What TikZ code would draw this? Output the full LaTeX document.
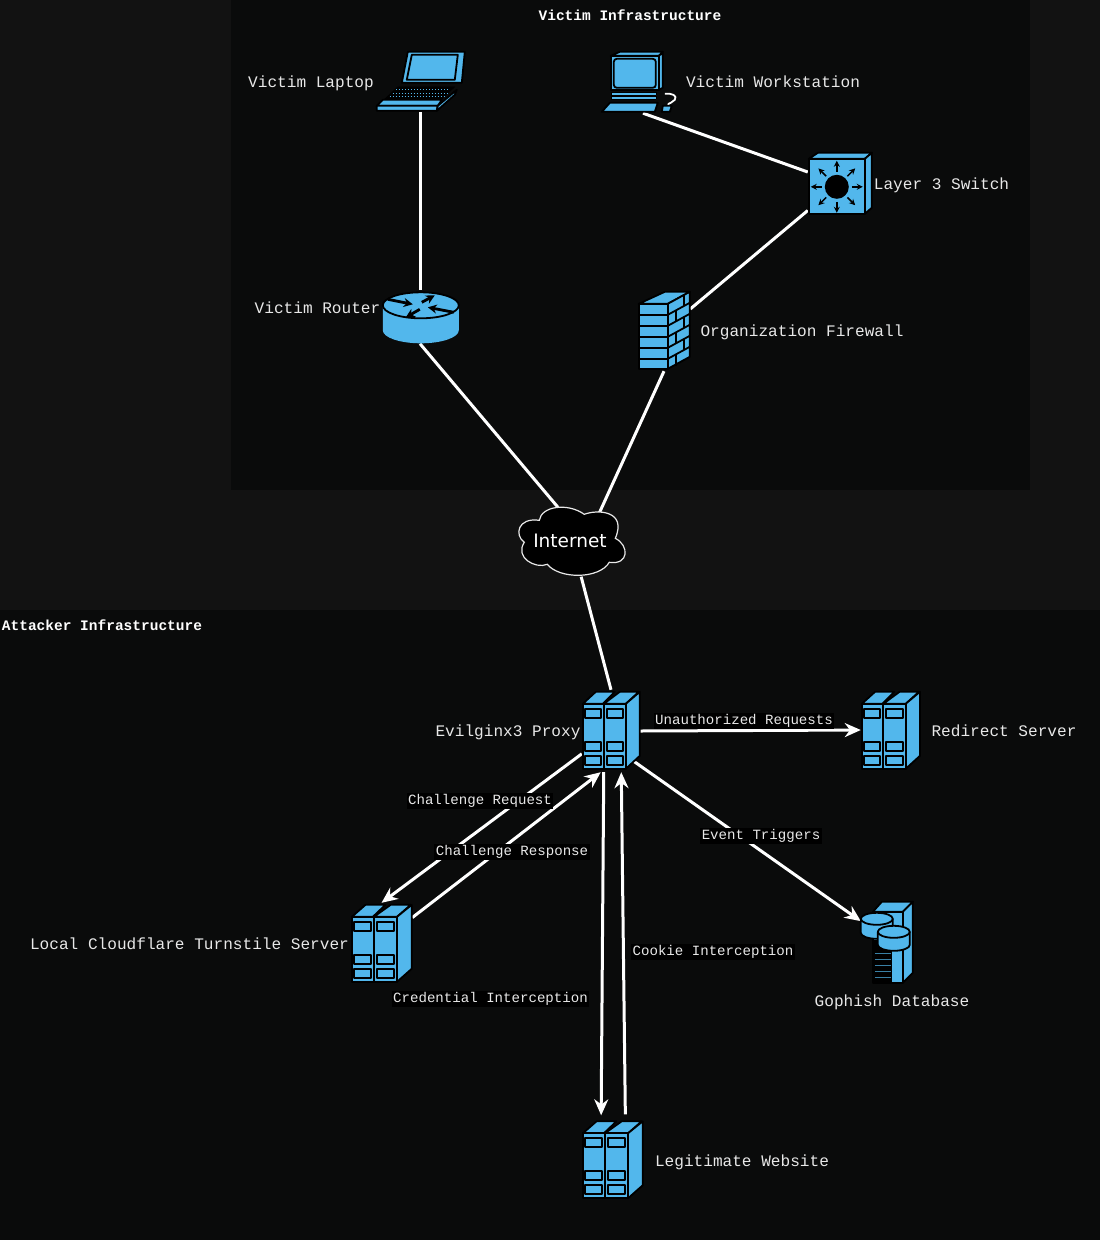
\documentclass[tikz,border=0pt]{standalone}
\usepackage{fontspec}
\setmonofont{Liberation Mono}
\newfontfamily\cloudfont{DejaVu Sans}
\usetikzlibrary{arrows.meta}
\definecolor{outerbg}{HTML}{121212}
\definecolor{panelbg}{HTML}{0A0B0B}
\definecolor{iconblue}{HTML}{52B7EC}
\definecolor{labelgrey}{HTML}{E8E8E8}
\tikzset{
 	part/.style={fill=iconblue,draw=black,line width=1.8pt,line join=round},
 	serverpic/.pic={
 		\draw[part] (1,14) -- (14,2) -- (33,2) -- (21,14) -- cycle;
 		\draw[part] (22,14) -- (38,2) -- (57,2) -- (44,14) -- cycle;
 		\draw[part] (44,14) -- (58,2) -- (58,66) -- (44,79) -- cycle;
 		\draw[part] (1,14) rectangle (22,79);
 		\draw[part] (22,14) rectangle (44,79);
 		\foreach \bx in {3,25}
 			\foreach \by in {19,52,66}
 				\draw[part] (\bx,\by) rectangle ++(16,9);
 	},
 	laptoppic/.pic={
 		\draw[part] (33,2) -- (90,2) -- (87,33) -- (27,33) -- cycle;
 		\draw[part] (37,5) -- (83,5) -- (80,30) -- (32,30) -- cycle;
 		\draw[fill=black,draw=black] (23,37) -- (80,37) -- (65,51) -- (8,51) -- cycle;
 		\foreach \ky in {40,43.5,47}
 			\draw[iconblue,line width=.8pt,dash pattern=on 1.5pt off 1.5pt] (21-\ky*.9+36,\ky) -- (74-\ky*.6+24,\ky);
 		\draw[part] (8,50) -- (2,56) -- (63,56) -- (67,50) -- cycle;
 		\draw[part] (2,56) -- (63,56) -- (62,61) -- (2,61) -- cycle;
 		\draw[part] (63,56) -- (82,40) -- (80,45) -- (62,61) -- cycle;
 	},
 	workstationpic/.pic={
 		\draw[part] (11,5) -- (20,1) -- (63,1) -- (59,5) -- cycle;
 		\draw[part] (59,5) -- (63,2) -- (63,37) -- (59,39) -- cycle;
 		\draw[part] (11,5) rectangle (59,39);
 		\draw[part,rounded corners=3pt] (14,8) rectangle (56,37);
 		\draw[part,line width=1pt] (12,42) rectangle (57,45);
 		\draw[part,line width=1pt] (12,46) rectangle (57,49);
 		\draw[part] (10,52) -- (58,52) -- (55,61) -- (2,61) -- cycle;
 		\draw[white,line width=1.8pt] (65,43) .. controls (72,42) and (78,45) .. (75,49) .. controls (73,52) and (69,52) .. (68,54);
 		\draw[part] (63,55) -- (72,55) -- (70,61) -- (62,61) -- cycle;
 	},
 	routerpic/.pic={
 		\fill[iconblue] (2,15) -- (2,40) arc[start angle=180,end angle=0,x radius=38,y radius=13] -- (78,15) -- cycle;
 		\draw[part] (40,15) ellipse[x radius=38,y radius=13];
 		\foreach \ax/\ay/\bx/\by in {7/9/32/14, 41/12/54/5, 73/22/47/17, 39/19/25/27}
 			\draw[black,line width=2.8pt,-{Stealth[length=9pt,width=9pt]}] (\ax,\ay) -- (\bx,\by);
 	},
 	firewallpic/.pic={
 		\draw[part] (1,13) -- (27,1) -- (52,1) -- (30,13) -- cycle;
 		\draw[part] (30,13) -- (52,1) -- (52,66) -- (30,78) -- cycle;
 		\draw[part] (1,13) rectangle (30,78);
 		\foreach \hy in {24,35,46,57,68} {
 			\draw[black,line width=1.8pt] (1,\hy) -- (30,\hy);
 			\draw[black,line width=1.8pt] (30,\hy) -- (52,\hy-12);
 		}
 		\foreach \hy in {24,46,68}
 			\draw[black,line width=1.8pt] (46,\hy-20) -- (46,\hy-9);
 		\foreach \hy in {35,57,79}
 			\draw[black,line width=1.8pt] (38,\hy-15) -- (38,\hy-4);
 	},
 	switchpic/.pic={
 		\draw[part] (1,7) -- (10,1) -- (64,1) -- (57,7) -- cycle;
 		\draw[part] (57,7) -- (64,1) -- (64,56) -- (57,62) -- cycle;
 		\draw[part] (1,7) rectangle (57,62);
 		\fill[black] (29,35) circle[radius=12];
 		\foreach \ang in {0,45,...,315}
 			\draw[black,line width=1.5pt,-{Stealth[length=6pt,width=6pt]}] (29,35) ++(\ang:15) -- ++(\ang:11);
 	},
 	databasepic/.pic={
 		\draw[part] (12,11) -- (21,1) -- (52,1) -- (42,11) -- cycle;
 		\draw[part] (42,11) -- (52,1) -- (52,72) -- (42,82) -- cycle;
 		\draw[part] (12,11) rectangle (42,82);
 		\fill[black] (12,39) rectangle (31,81);
 		\foreach \vy in {53,59,...,77}
 			\draw[iconblue!70!black,line width=1pt] (14,\vy) -- (30,\vy);
 		\foreach \cx/\ct/\cb in {16/18/32, 33/31/44} {
 			\fill[iconblue] (\cx-16,\ct) -- (\cx-16,\cb) arc[start angle=180,end angle=0,x radius=16,y radius=6] -- (\cx+16,\ct) -- cycle;
 			\draw[black,line width=1.8pt] (\cx-16,\ct) -- (\cx-16,\cb) arc[start angle=180,end angle=0,x radius=16,y radius=6] -- (\cx+16,\ct);
 			\draw[part] (\cx,\ct) ellipse[x radius=16,y radius=6];
 		}
 	}
}
\begin{document}
\begin{tikzpicture}
 	  [x=1pt,y=-1pt,
 	iconbox/.style={rectangle,inner sep=0pt},
 	title/.style={inner sep=0pt,yshift=-1.5pt,text=white,font=\ttfamily\bfseries\fontsize{14.5}{14.5}\selectfont,text height=10pt,text depth=3pt},
 	lbl/.style={inner sep=0pt,yshift=-1.2pt,text=labelgrey,font=\ttfamily\fontsize{16.1}{16.1}\selectfont,text height=11pt,text depth=3pt},
 	flowlbl/.style={inner sep=1.5pt,yshift=-1.5pt,fill=black,text=labelgrey,font=\ttfamily\fontsize{14.1}{14.1}\selectfont,text height=10pt,text depth=3pt},
 	link/.style={white,line width=3pt},
 	flow/.style={link,-{Stealth[length=16pt,width=14pt]}}]

 	\useasboundingbox (0,0) rectangle (1100,1240);
 	\fill[outerbg] (0,0) rectangle (1100,1240);
 	\fill[panelbg] (231,0) rectangle (1030,490);
 	\fill[panelbg] (0,610) rectangle (1100,1240);

 	% places of the icons
 	\node[iconbox,minimum width=90pt,minimum height=62pt] (laptop) at (420,81) {};
 	\node[iconbox,minimum width=86pt,minimum height=62pt] (station) at (643,82) {};
 	\node[iconbox,minimum width=64pt,minimum height=63pt] (switch) at (840,183.5) {};
 	\node[iconbox,minimum width=78pt,minimum height=53pt] (router) at (420,317) {};
 	\node[iconbox,minimum width=52pt,minimum height=80pt] (firewall) at (664,331) {};
 	\node[iconbox,minimum width=109pt,minimum height=69pt] (inet) at (572,542) {};
 	\coordinate (inetentry) at (597,518);
 	\node[iconbox,minimum width=58pt,minimum height=82pt] (proxy) at (611,731) {};
 	\node[iconbox,minimum width=59pt,minimum height=80pt] (redirect) at (890.5,730) {};
 	\node[iconbox,minimum width=61pt,minimum height=79pt] (turnstile) at (381.5,942.5) {};
 	\node[iconbox,minimum width=53pt,minimum height=82pt] (gophish) at (887.5,942) {};
 	\node[iconbox,minimum width=61pt,minimum height=79pt] (website) at (612.5,1159) {};

 	% connectors
 	\draw[link] (laptop.south) -- (router.north);
 	\draw[link] (station.south) -- (switch);
 	\draw[link] (switch) -- (firewall);
 	\draw[link] (router.south) -- (inet.112);
 	\draw[link] (firewall.south) -- (inetentry);
 	\draw[link] (inet) -- (proxy.north);
 	\draw[flow] (proxy.east) -- (redirect.west);
 	\draw[flow] (proxy.218) -- (turnstile.north);
 	\draw[flow] (turnstile.39) -- (proxy.256);
 	\draw[flow,shorten <=-8pt] (proxy.-50) -- (gophish.142);
 	\draw[flow,shorten >=4pt] (proxy.260) -- (website.106);
 	\draw[flow,shorten <=5pt] (website.72) -- (proxy.284);

 	% icons over the line ends
 	\pic at (laptop.north west) {laptoppic};
 	\pic at (station.north west) {workstationpic};
 	\pic at (switch.north west) {switchpic};
 	\pic at (router.north west) {routerpic};
 	\pic at (firewall.north west) {firewallpic};
 	\pic at (proxy.north west) {serverpic};
 	\pic[xscale=1.02] at (redirect.north west) {serverpic};
 	\pic[xscale=1.05] at (turnstile.north west) {serverpic};
 	\pic[xscale=1.05] at (website.north west) {serverpic};
 	\pic at (gophish.north west) {databasepic};
 	\draw[fill=black,draw=labelgrey,line width=1.2pt,shift={(inet.north west)}]
 		(7,35) .. controls (-3,28) and (0,10) .. (22,13)
 		.. controls (24,-1) and (50,-5) .. (67,7)
 		.. controls (80,2) and (110,3) .. (98,31)
 		.. controls (112,38) and (112,58) .. (92,55)
 		.. controls (82,72) and (42,72) .. (30,57)
 		.. controls (18,62) and (-3,50) .. (7,35) -- cycle;

 	% texts
 	\node[title] (victimtitle) at (630,15) {Victim Infrastructure};
 	\node[title] (attackertitle) at (102,625) {Attacker Infrastructure};
 	\node[inner sep=0pt,xshift=-2pt,yshift=1pt,text=white,font=\cloudfont\fontsize{18.5}{18.5}\selectfont] (inettext) at (inet) {Internet};
 	\node[lbl] (laptoptext) at (311,82) {Victim Laptop};
 	\node[lbl] (stationtext) at (773,82) {Victim Workstation};
 	\node[lbl] (switchtext) at (941.5,184) {Layer 3 Switch};
 	\node[lbl] (routertext) at (317.5,308) {Victim Router};
 	\node[lbl] (firewalltext) at (802,331) {Organization Firewall};
 	\node[lbl] (proxytext) at (508,731) {Evilginx3 Proxy};
 	\node[lbl] (redirecttext) at (1004,731) {Redirect Server};
 	\node[lbl] (turnstiletext) at (189.5,944) {Local Cloudflare Turnstile Server};
 	\node[lbl] (gophishtext) at (892,1001) {Gophish Database};
 	\node[lbl] (websitetext) at (742,1161) {Legitimate Website};
 	\node[flowlbl] (unauth) at (744,719) {Unauthorized Requests};
 	\node[flowlbl] (chalreq) at (480,799) {Challenge Request};
 	\node[flowlbl] (chalresp) at (512,850) {Challenge Response};
 	\node[flowlbl] (events) at (761,834) {Event Triggers};
 	\node[flowlbl] (cookie) at (713,950) {Cookie Interception};
 	\node[flowlbl] (creds) at (490.5,997) {Credential Interception};

 \end{tikzpicture}
\end{document}
